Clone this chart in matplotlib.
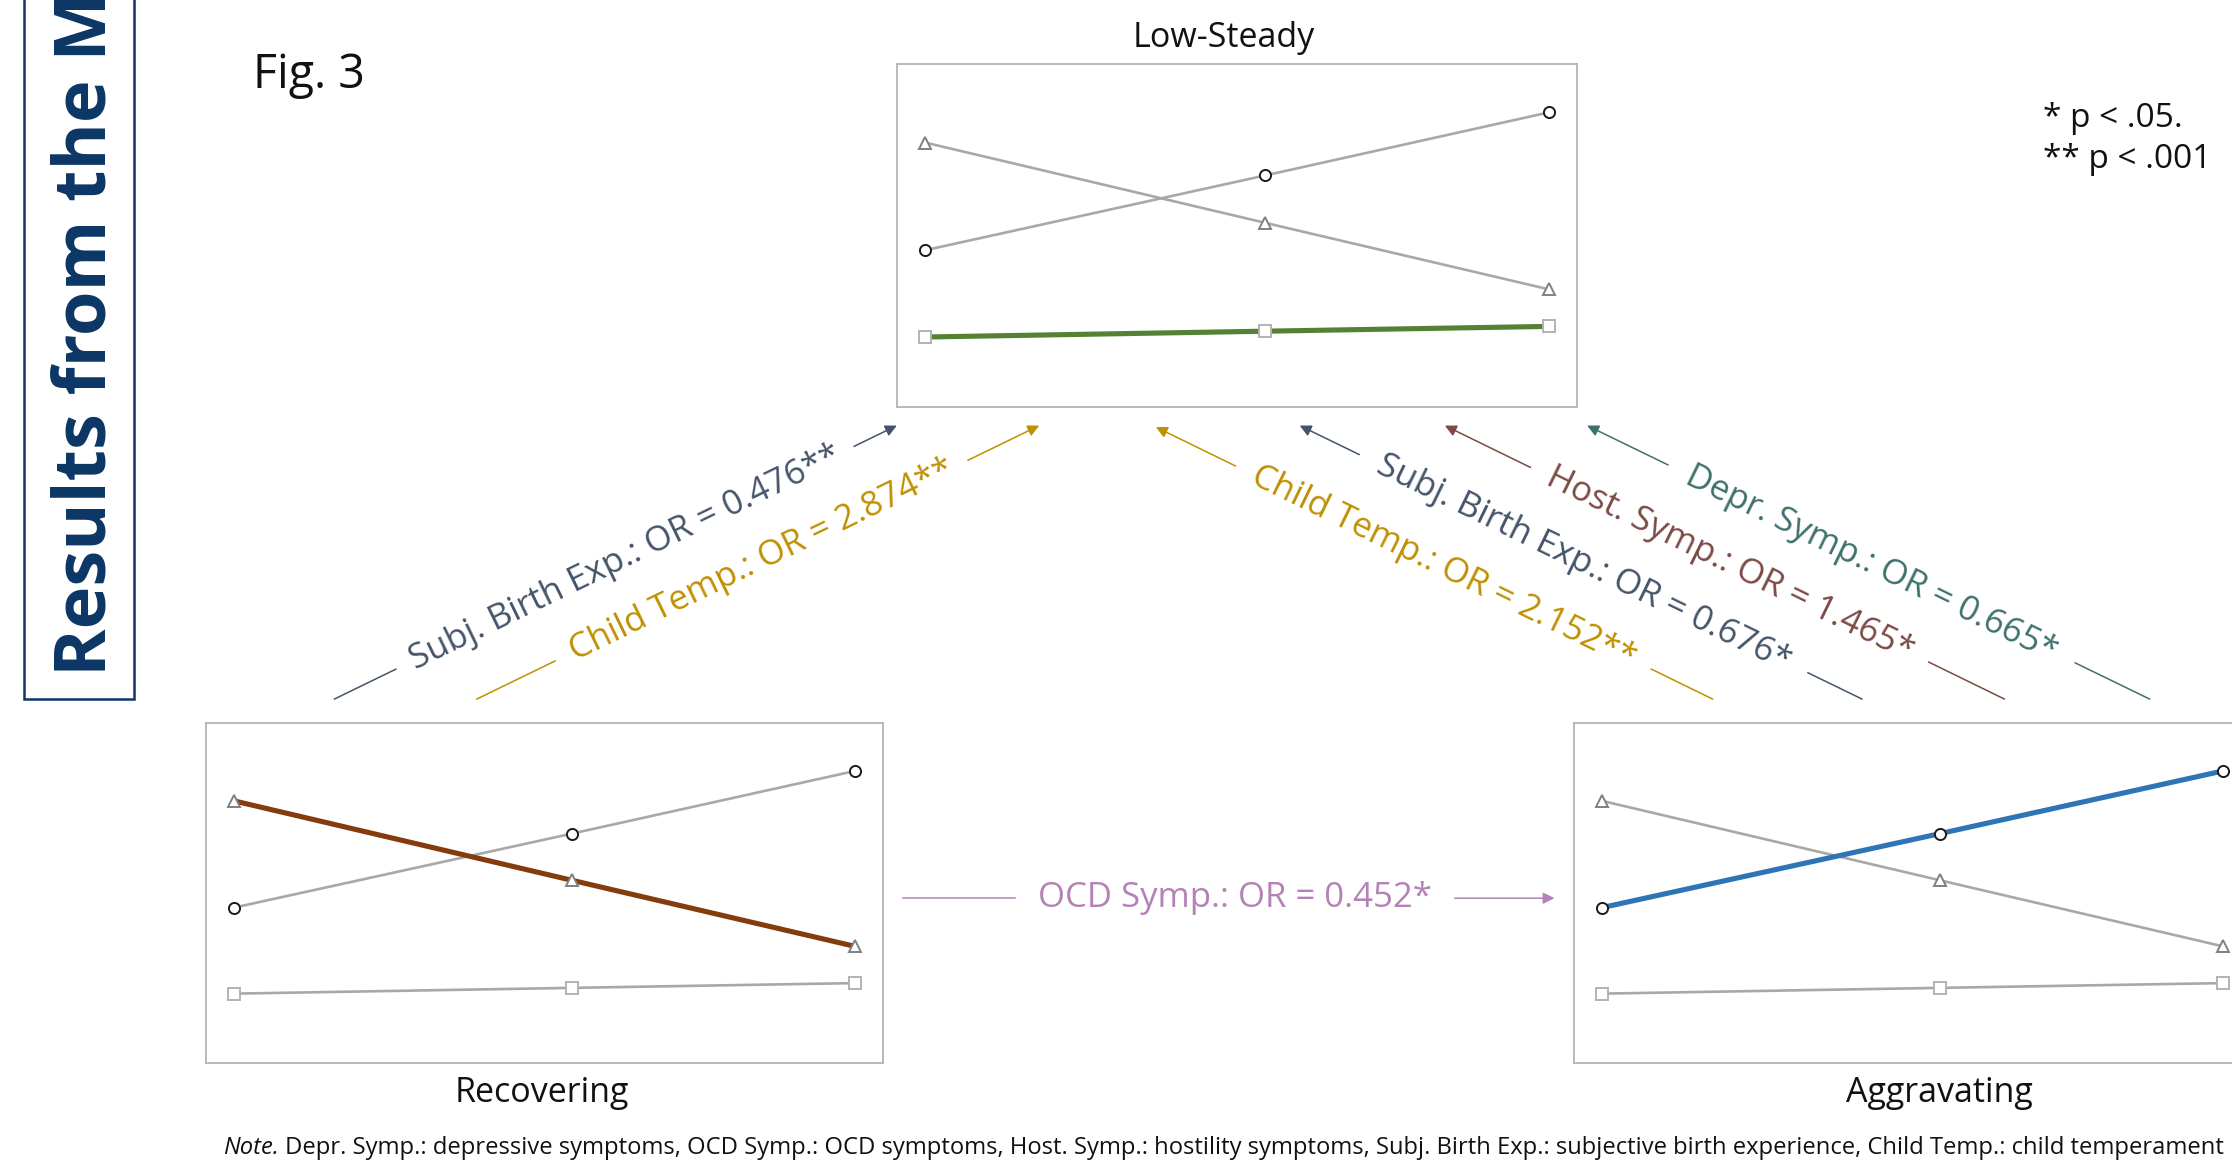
import numpy as np
import matplotlib
matplotlib.use("Agg")
import matplotlib.pyplot as plt
from matplotlib.patches import FancyArrowPatch, Rectangle

plt.rcParams['font.family'] = ['Open Sans', 'DejaVu Sans']

W, H, DPI = 2232, 1170, 100

# Trajectory shapes shown in every class panel (three assessment waves)
waves = [0.0, 1.09, 2.0]
circle_means = [4.57, 6.75, 8.59]
triangle_means = [7.71, 5.37, 3.43]
square_means = [2.04, 2.21, 2.35]

class_names = ["Low-Steady", "Recovering", "Aggravating"]
class_highlight = ["square", "triangle", "circle"]
class_colors = ["#548235", "#843c0c", "#2e75b6"]

# Transition predictors (odds ratios)
trans_labels = [
    "Subj. Birth Exp.: OR = 0.476**",
    "Child Temp.: OR = 2.874**",
    "Child Temp.: OR = 2.152**",
    "Subj. Birth Exp.: OR = 0.676*",
    "Host. Symp.: OR = 1.465*",
    "Depr. Symp.: OR = 0.665*",
    "OCD Symp.: OR = 0.452*",
]
trans_colors = ["#44546a", "#bf9000", "#bf9000", "#44546a",
                "#7b4a45", "#3f716c", "#b482b6"]

note_lead = "Note."
note_body = ("Depr. Symp.: depressive symptoms, OCD Symp.: OCD symptoms, "
             "Host. Symp.: hostility symptoms, Subj. Birth Exp.: subjective birth "
             "experience, Child Temp.: child temperament")
sig_lines = ["* p < .05.", "** p < .001"]

fig = plt.figure(figsize=(W / DPI, H / DPI), dpi=DPI)
fig.patch.set_facecolor("white")

# Canvas layer in pixel units for connectors and free text
ov = fig.add_axes([0, 0, 1, 1], zorder=0)
ov.set_xlim(0, W)
ov.set_ylim(H, 0)
ov.axis("off")


def px_axes(x0, y0, x1, y1):
    return fig.add_axes([x0 / W, 1 - y1 / H, (x1 - x0) / W, (y1 - y0) / H], zorder=2)


panel_boxes = [(897, 64, 1577, 407), (206, 723, 883, 1063), (1574, 723, 2251, 1063)]
title_pos = [(1224, 47), (542, 1102), (1939, 1102)]

series = {
    "circle": (circle_means, "o", "#1a1a1a", 8.0),
    "triangle": (triangle_means, "^", "#808080", 8.5),
    "square": (square_means, "s", "#b3b3b3", 8.0),
}

for box, name, hl, col, tp in zip(panel_boxes, class_names, class_highlight,
                                  class_colors, title_pos):
    ax = px_axes(*box)
    ax.set_xlim(-0.09, 2.09)
    ax.set_ylim(0, 10)
    ax.set_xticks([])
    ax.set_yticks([])
    for sp in ax.spines.values():
        sp.set_color("#b4b4b4")
        sp.set_linewidth(1.3)
    for key, (vals, mk, edge, ms) in series.items():
        is_hl = key == hl
        ax.plot(waves, vals, color=col if is_hl else "#a8a8a8",
                lw=3.7 if is_hl else 1.9, zorder=3 if is_hl else 2,
                solid_capstyle="butt")
        ax.plot(waves, vals, ls="none", marker=mk, ms=ms, mfc="white",
                mec=edge, mew=1.4, zorder=4)
    ov.text(tp[0], tp[1], name, fontsize=24.5, ha="center", va="baseline",
            color="#111111")

# Transition arrows: tail point, head point, and the label gap along the line
arrow_geom = [
    ((334.5, 699.0), (896.8, 425.6), 0.109, 0.924),
    ((476.9, 699.0), (1039.2, 425.6), 0.139, 0.873),
    ((1712.5, 699.0), (1155.9, 427.1), 0.110, 0.857),
    ((1861.9, 699.0), (1299.7, 425.6), 0.096, 0.894),
    ((2004.3, 699.0), (1444.9, 425.6), 0.135, 0.847),
    ((2149.5, 699.0), (1587.2, 425.6), 0.132, 0.856),
    ((902.5, 898.2), (1554.5, 898.2), 0.172, 0.847),
]

for (tail, tip, g0, g1), label, col in zip(arrow_geom, trans_labels, trans_colors):
    tail = np.array(tail)
    tip = np.array(tip)
    d = tip - tail
    p0 = tail + g0 * d
    p1 = tail + g1 * d
    ov.plot([tail[0], p0[0]], [tail[1], p0[1]], color=col, lw=1.1)
    ov.add_patch(FancyArrowPatch(p1, tip, arrowstyle="-|>", mutation_scale=17,
                                 color=col, lw=1.1, shrinkA=0, shrinkB=0))
    ang = np.degrees(np.arctan2(-d[1], d[0]))
    if ang > 90:
        ang -= 180
    elif ang < -90:
        ang += 180
    mid = tail + (g0 + g1) / 2 * d
    ov.text(mid[0], mid[1], label, color=col, fontsize=25, rotation=ang,
            rotation_mode="anchor", ha="center", va="center")

# Header, significance key and note
ov.text(253, 88, "Fig. 3", fontsize=33.5, ha="left", va="baseline", color="#111111")
for i, s in enumerate(sig_lines):
    ov.text(2043, 127 + 41 * i, s, fontsize=24, ha="left", va="baseline",
            color="#111111")

ov.add_patch(Rectangle((24, -20), 110, 719, fill=False, edgecolor="#0b3665", lw=1.8))
ov.text(105, 676, "Results from the M", rotation=90, rotation_mode="anchor",
        ha="left", va="baseline", fontsize=52, fontweight="bold", color="#0b3665")

lead = ov.text(223, 1154, note_lead, fontsize=17.1, style="italic",
               ha="left", va="baseline", color="#111111")
fig.canvas.draw()
bb = lead.get_window_extent(renderer=fig.canvas.get_renderer())
ov.text(bb.x1 + 6, 1154, note_body, fontsize=17.1, ha="left", va="baseline",
        color="#111111")

fig.savefig("out.png", dpi=DPI, facecolor="white")
